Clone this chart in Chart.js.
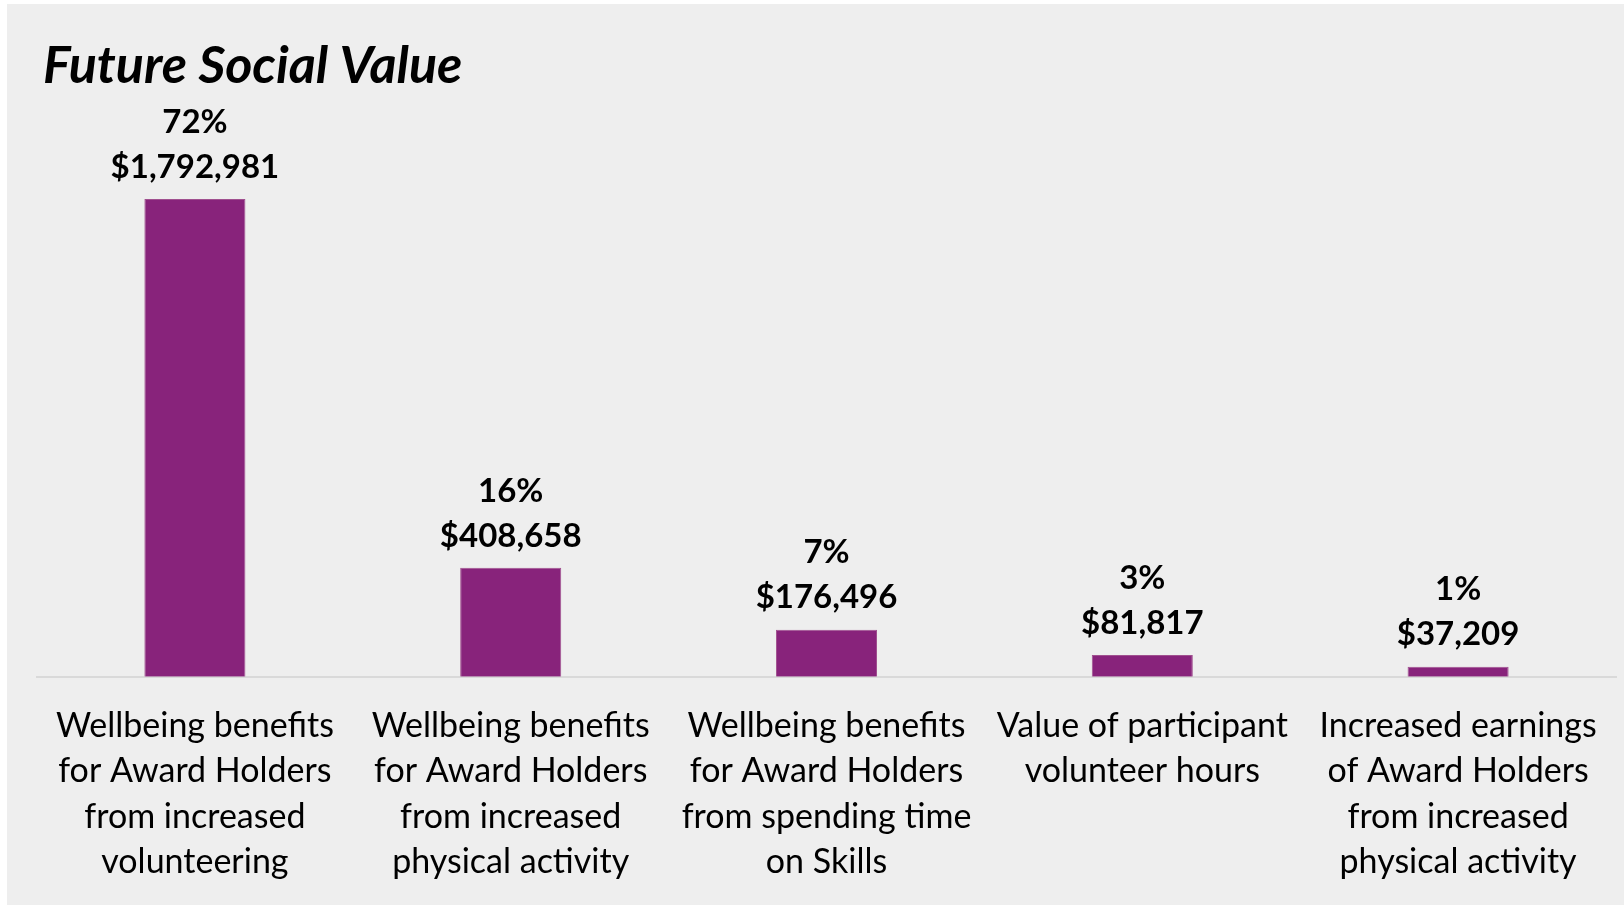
<!DOCTYPE html>
<html>
<head>
<meta charset="utf-8">
<script src="https://cdn.jsdelivr.net/npm/chart.js@4"></script>
<style>
  html, body { margin: 0; padding: 0; background: #ffffff; overflow: hidden; }
  #wrap { position: absolute; left: 7px; top: 4px; width: 1617px; height: 907px; background: #eeeeee; }
</style>
</head>
<body>
<div id="wrap"><canvas id="myChart" width="1617" height="907"></canvas></div>
<script>
/* globals Chart:false */

const categories = [
  ['Wellbeing benefits', 'for Award Holders', 'from increased', 'volunteering'],
  ['Wellbeing benefits', 'for Award Holders', 'from increased', 'physical activity'],
  ['Wellbeing benefits', 'for Award Holders', 'from spending time', 'on Skills'],
  ['Value of participant', 'volunteer hours'],
  ['Increased earnings', 'of Award Holders', 'from increased', 'physical activity']
]
const values = [1792981, 408658, 176496, 81817, 37209]
const shares = [72, 16, 7, 3, 1]

const FONT = 'Lato, "Noto Sans", sans-serif'

// Title plus the two-line value label above each bar
const labelPlugin = {
  id: 'barLabels',
  afterDraw (chart) {
    const c = chart.ctx
    c.save()
    c.fillStyle = '#000000'
    c.font = 'italic bold 52px ' + FONT
    c.textAlign = 'left'
    c.textBaseline = 'alphabetic'
    c.fillText('Future Social Value', 36, 79)

    c.font = 'bold 33px ' + FONT
    c.textAlign = 'center'
    c.textBaseline = 'middle'
    chart.getDatasetMeta(0).data.forEach((bar, i) => {
      c.fillText(shares[i] + '%', bar.x, bar.y - 77)
      c.fillText('$' + values[i].toLocaleString('en-US'), bar.x, bar.y - 32)
    })
    c.restore()
  }
}

const ctx = document.getElementById('myChart')
// eslint-disable-next-line no-unused-vars
const myChart = new Chart(ctx, {
  type: 'bar',
  data: {
    labels: categories,
    datasets: [{
      data: values,
      backgroundColor: '#88237b',
      borderColor: '#a0508f',
      borderWidth: 1,
      barPercentage: 0.32,
      categoryPercentage: 1
    }]
  },
  options: {
    responsive: false,
    animation: false,
    devicePixelRatio: 1,
    layout: {
      padding: { left: 30, right: 8, top: 195, bottom: 0 }
    },
    scales: {
      y: {
        display: false,
        min: 0,
        max: 1792981
      },
      x: {
        grid: { display: false, drawTicks: false },
        border: { display: true, color: '#d9d9d9', width: 2 },
        ticks: {
          color: '#000000',
          padding: 26,
          maxRotation: 0,
          autoSkip: false,
          font: { family: FONT, size: 34, lineHeight: 1.34 }
        }
      }
    },
    plugins: {
      legend: { display: false },
      tooltip: { enabled: false }
    }
  },
  plugins: [labelPlugin]
})
</script>
</body>
</html>
